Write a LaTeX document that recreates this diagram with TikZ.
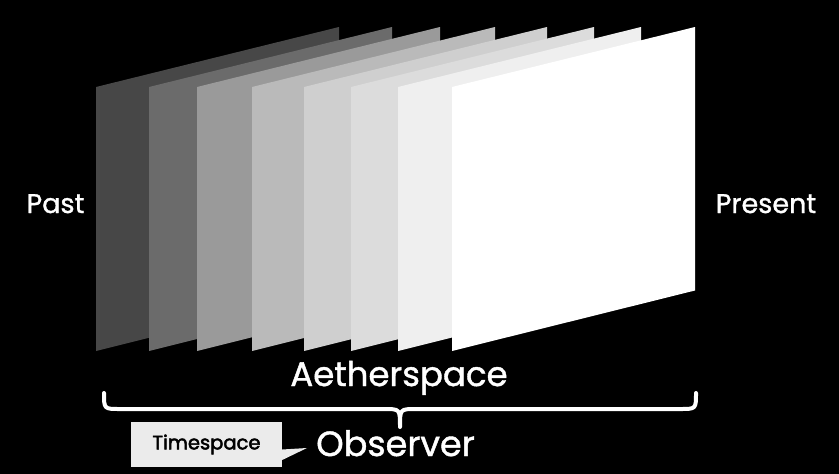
\documentclass[tikz,border=0pt]{standalone}
\usepackage{fontspec}
\setmainfont{Poppins}
\newfontfamily\popm{Poppins}[FakeBold=1.2]
\newfontfamily\popb{Poppins}[FakeBold=2.4]
\begin{document}
\begin{tikzpicture}[x=1pt,y=-1pt,
  panel/.style={fill=#1, draw=none},
  lbl/.style={text=white, anchor=base, inner sep=0pt},
  brace/.style={draw=white, line width=4pt, line cap=round, line join=round}]
\fill[black] (0,0) rectangle (839,474);
\useasboundingbox (0,0) rectangle (839,474);
\definecolor{p1}{HTML}{474747}
\definecolor{p2}{HTML}{6B6B6B}
\definecolor{p3}{HTML}{9A9A9A}
\definecolor{p4}{HTML}{BABABA}
\definecolor{p5}{HTML}{CFCFCF}
\definecolor{p6}{HTML}{DCDCDC}
\definecolor{p7}{HTML}{EFEFEF}
\definecolor{p8}{HTML}{FFFFFF}
\definecolor{calloutfill}{HTML}{EBEBEB}
\foreach \x/\c in {96/p1,149/p2,197/p3,252/p4,304/p5,351/p6,398/p7,452/p8}{
  \fill[panel=\c] (\x,351) -- (\x,87) -- (\x+243,27) -- (\x+243,290.5) -- cycle;
}
\node[lbl, font=\popm\fontsize{27}{27}\selectfont] (past) at (55.5,213) {Past};
\node[lbl, font=\popm\fontsize{27}{27}\selectfont] (present) at (766,213) {Present};
\node[lbl, font=\popm\fontsize{34}{34}\selectfont] (aether) at (399,386) {Aetherspace};
\node[lbl, font=\popm\fontsize{35}{35}\selectfont] (observer) at (395.5,456) {Observer};
\coordinate (bl) at (104,393);
\coordinate (br) at (696,393);
\coordinate (btip) at (400,427);
\draw[brace] (bl) .. controls (104,409) and (104,409) .. (120,409) -- (384,409)
  .. controls (400,409) and (400,409) .. (btip)
  .. controls (400,409) and (400,409) .. (416,409) -- (680,409)
  .. controls (696,409) and (696,409) .. (br);
\node[fill=calloutfill, minimum width=151pt, minimum height=45pt, inner sep=0pt,
  font=\popb\fontsize{19.5}{19.5}\selectfont, text=black] (tbox) at (206.5,444.5) {Timespace};
\coordinate (ttip) at (307,448);
\fill[calloutfill] ([yshift=-5pt]tbox.east) -- (ttip) -- ([yshift=-15.5pt]tbox.east) -- cycle;
\end{tikzpicture}
\end{document}
